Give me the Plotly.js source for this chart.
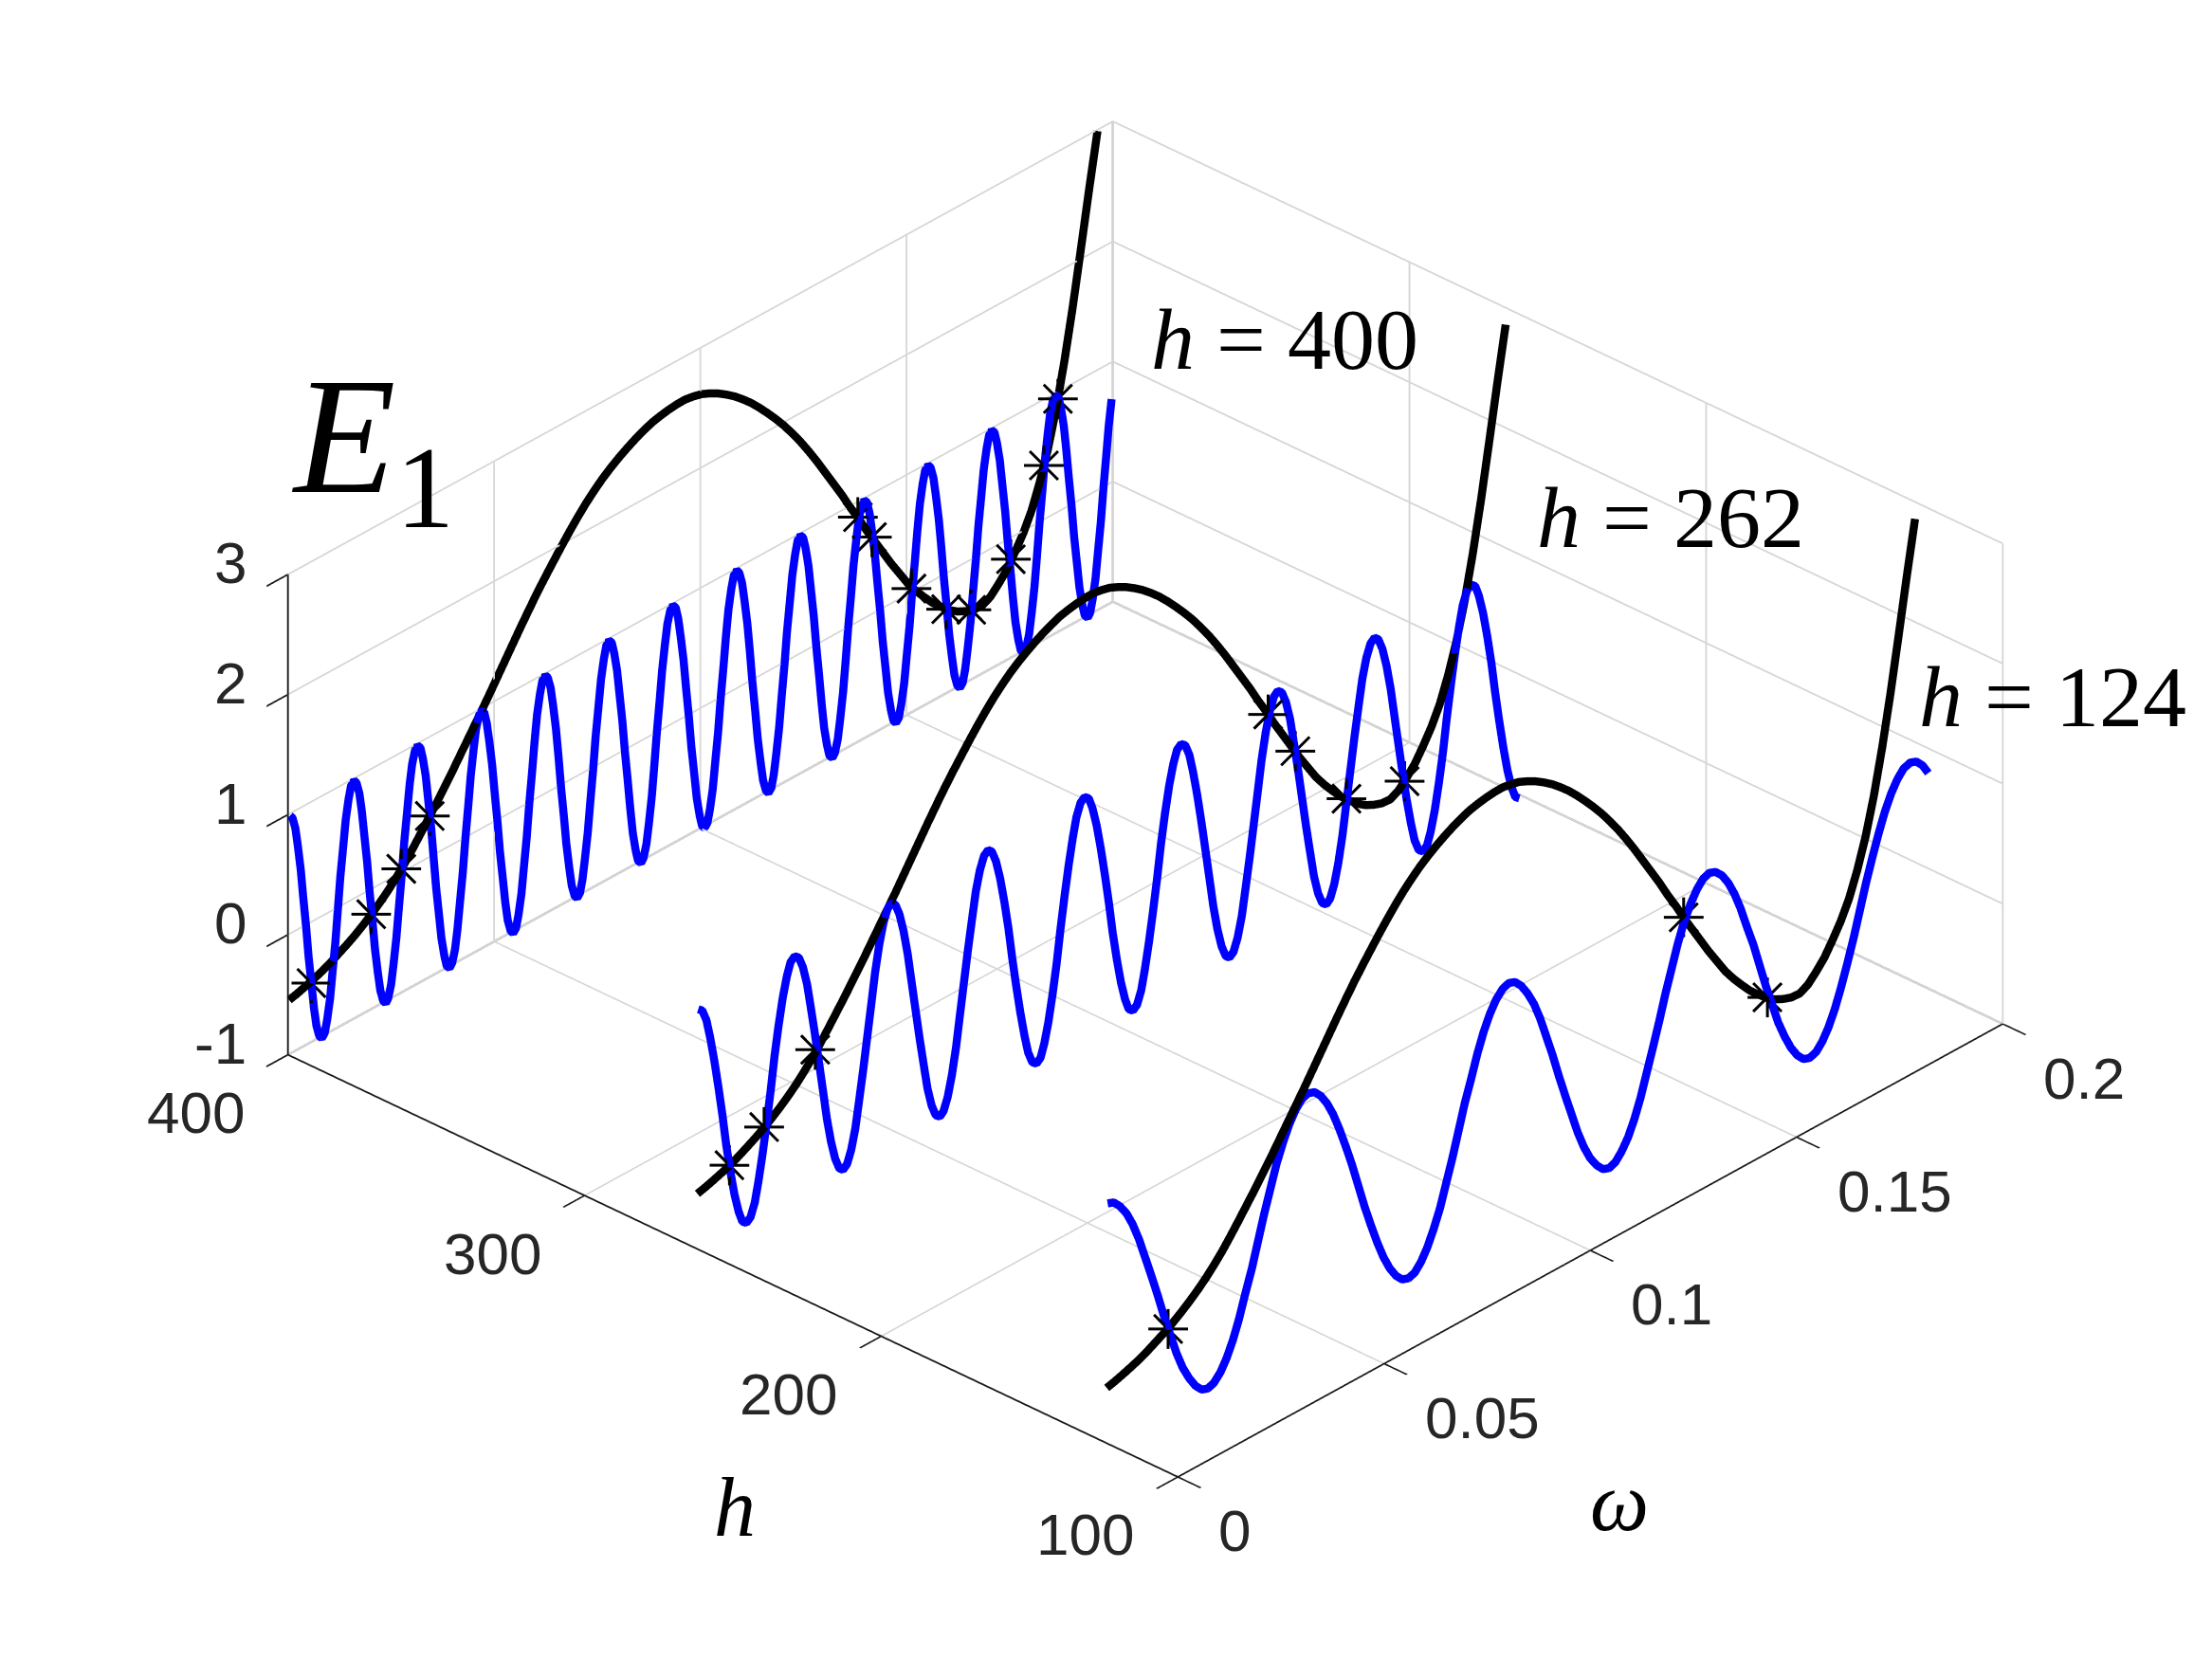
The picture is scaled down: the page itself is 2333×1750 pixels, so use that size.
<!DOCTYPE html>
<html><head><meta charset="utf-8"><script src="https://cdn.plot.ly/plotly-3.0.1.min.js"></script>
<style>html,body{margin:0;padding:0;background:#fff}</style></head><body><div id="g" style="width:2333px;height:1750px"></div>
<script>
const omega400=[0,.0006,.0013,.0019,.0026,.0032,.0039,.0045,.0052,.0058,.0064,.0071,.0077,.0084,.009,.0097,.0103,.011,.0116,.0122,.0129,.0135,.0142,.0148,
.0155,.0161,.0168,.0174,.018,.0187,.0193,.02,.0206,.0213,.0219,.0226,.0232,.0238,.0245,.0251,.0258,.0264,.0271,.0277,.0284,.029,.0296,.0303,
.0309,.0316,.0322,.0329,.0335,.0342,.0348,.0354,.0361,.0367,.0374,.038,.0387,.0393,.04,.0406,.0412,.0419,.0425,.0432,.0438,.0445,.0451,.0458,
.0464,.0471,.0477,.0483,.049,.0496,.0503,.0509,.0516,.0522,.0528,.0535,.0541,.0548,.0554,.0561,.0567,.0574,.058,.0587,.0593,.0599,.0606,.0612,
.0619,.0625,.0632,.0638,.0645,.0651,.0657,.0664,.067,.0677,.0683,.069,.0696,.0703,.0709,.0715,.0722,.0728,.0735,.0741,.0748,.0754,.0761,.0767,
.0773,.078,.0786,.0793,.0799,.0806,.0812,.0819,.0825,.0831,.0838,.0844,.0851,.0857,.0864,.087,.0877,.0883,.0889,.0896,.0902,.0909,.0915,.0922,
.0928,.0935,.0941,.0947,.0954,.096,.0967,.0973,.098,.0986,.0993,.0999,.1005,.1012,.1018,.1025,.1031,.1038,.1044,.1051,.1057,.1063,.107,.1076,
.1083,.1089,.1096,.1102,.1109,.1115,.1121,.1128,.1134,.1141,.1147,.1154,.116,.1167,.1173,.1179,.1186,.1192,.1199,.1205,.1212,.1218,.1225,.1231,
.1237,.1244,.125,.1257,.1263,.127,.1276,.1283,.1289,.1295,.1302,.1308,.1315,.1321,.1328,.1334,.1341,.1347,.1353,.136,.1366,.1373,.1379,.1386,
.1392,.1399,.1405,.1411,.1418,.1424,.1431,.1437,.1444,.145,.1457,.1463,.1469,.1476,.1482,.1489,.1495,.1502,.1508,.1515,.1521,.1527,.1534,.154,
.1547,.1553,.156,.1566,.1573,.1579,.1585,.1592,.1598,.1605,.1611,.1618,.1624,.1631,.1637,.1643,.165,.1656,.1663,.1669,.1676,.1682,.1689,.1695,
.1701,.1708,.1714,.1721,.1727,.1734,.174,.1747,.1753,.1759,.1766,.1772,.1779,.1785,.1792,.1798,.1805,.1811,.1817,.1824,.183,.1837,.1843,.185,
.1856,.1863,.1869,.1876,.1882,.1888,.1895,.1901,.1908,.1914,.1921,.1927,.1934,.194,.1946,.1953,.1959,.1966,.1972,.1979,.1985,.1992];
const blue400=[1,.97,.87,.71,.5,.26,0,-.26,-.5,-.71,-.87,-.97,-1,-.97,-.87,-.71,-.5,-.26,0,.26,.5,.71,.87,.97,
1,.97,.87,.71,.5,.26,0,-.26,-.5,-.71,-.87,-.97,-1,-.97,-.87,-.71,-.5,-.26,0,.26,.5,.71,.87,.97,
1,.97,.87,.71,.5,.26,0,-.26,-.5,-.71,-.87,-.97,-1,-.97,-.87,-.71,-.5,-.26,0,.26,.5,.71,.87,.97,
1,.97,.87,.71,.5,.26,0,-.26,-.5,-.71,-.87,-.97,-1,-.97,-.87,-.71,-.5,-.26,0,.26,.5,.71,.87,.97,
1,.97,.87,.71,.5,.26,0,-.26,-.5,-.71,-.87,-.97,-1,-.97,-.87,-.71,-.5,-.26,0,.26,.5,.71,.87,.97,
1,.97,.87,.71,.5,.26,0,-.26,-.5,-.71,-.87,-.97,-1,-.97,-.87,-.71,-.5,-.26,0,.26,.5,.71,.87,.97,
1,.97,.87,.71,.5,.26,0,-.26,-.5,-.71,-.87,-.97,-1,-.97,-.87,-.71,-.5,-.26,0,.26,.5,.71,.87,.97,
1,.97,.87,.71,.5,.26,0,-.26,-.5,-.71,-.87,-.97,-1,-.97,-.87,-.71,-.5,-.26,0,.26,.5,.71,.87,.97,
1,.97,.87,.71,.5,.26,0,-.26,-.5,-.71,-.87,-.97,-1,-.97,-.87,-.71,-.5,-.26,0,.26,.5,.71,.87,.97,
1,.97,.87,.71,.5,.26,0,-.26,-.5,-.71,-.87,-.97,-1,-.97,-.87,-.71,-.5,-.26,0,.26,.5,.71,.87,.97,
1,.97,.87,.71,.5,.26,0,-.26,-.5,-.71,-.87,-.97,-1,-.97,-.87,-.71,-.5,-.26,0,.26,.5,.71,.87,.97,
1,.97,.87,.71,.5,.26,0,-.26,-.5,-.71,-.87,-.97,-1,-.97,-.87,-.71,-.5,-.26,0,.26,.5,.71,.87,.97,
1,.97,.87,.71,.5,.26,0,-.26,-.5,-.71,-.87,-.97,-1,-.97,-.87,-.71,-.5,-.26,0,.26,.5,.71];
const omega262=[0,.001,.002,.0029,.0039,.0049,.0059,.0068,.0078,.0088,.0098,.0107,.0117,.0127,.0137,.0146,.0156,.0166,.0176,.0185,.0195,.0205,.0215,.0224,
.0234,.0244,.0254,.0264,.0273,.0283,.0293,.0303,.0312,.0322,.0332,.0342,.0351,.0361,.0371,.0381,.039,.04,.041,.042,.0429,.0439,.0449,.0459,
.0468,.0478,.0488,.0498,.0508,.0517,.0527,.0537,.0547,.0556,.0566,.0576,.0586,.0595,.0605,.0615,.0625,.0634,.0644,.0654,.0664,.0673,.0683,.0693,
.0703,.0712,.0722,.0732,.0742,.0752,.0761,.0771,.0781,.0791,.08,.081,.082,.083,.0839,.0849,.0859,.0869,.0878,.0888,.0898,.0908,.0917,.0927,
.0937,.0947,.0956,.0966,.0976,.0986,.0996,.1005,.1015,.1025,.1035,.1044,.1054,.1064,.1074,.1083,.1093,.1103,.1113,.1122,.1132,.1142,.1152,.1161,
.1171,.1181,.1191,.12,.121,.122,.123,.124,.1249,.1259,.1269,.1279,.1288,.1298,.1308,.1318,.1327,.1337,.1347,.1357,.1366,.1376,.1386,.1396,
.1405,.1415,.1425,.1435,.1444,.1454,.1464,.1474,.1484,.1493,.1503,.1513,.1523,.1532,.1542,.1552,.1562,.1571,.1581,.1591,.1601,.161,.162,.163,
.164,.1649,.1659,.1669,.1679,.1688,.1698,.1708,.1718,.1728,.1737,.1747,.1757,.1767,.1776,.1786,.1796,.1806,.1815,.1825,.1835,.1845,.1854,.1864,
.1874,.1884,.1893,.1903,.1913,.1923,.1932,.1942,.1952,.1962,.1972,.1981,.1991];
const blue262=[1,.97,.87,.71,.5,.26,0,-.26,-.5,-.71,-.87,-.97,-1,-.97,-.87,-.71,-.5,-.26,0,.26,.5,.71,.87,.97,
1,.97,.87,.71,.5,.26,0,-.26,-.5,-.71,-.87,-.97,-1,-.97,-.87,-.71,-.5,-.26,0,.26,.5,.71,.87,.97,
1,.97,.87,.71,.5,.26,0,-.26,-.5,-.71,-.87,-.97,-1,-.97,-.87,-.71,-.5,-.26,0,.26,.5,.71,.87,.97,
1,.97,.87,.71,.5,.26,0,-.26,-.5,-.71,-.87,-.97,-1,-.97,-.87,-.71,-.5,-.26,0,.26,.5,.71,.87,.97,
1,.97,.87,.71,.5,.26,0,-.26,-.5,-.71,-.87,-.97,-1,-.97,-.87,-.71,-.5,-.26,0,.26,.5,.71,.87,.97,
1,.97,.87,.71,.5,.26,0,-.26,-.5,-.71,-.87,-.97,-1,-.97,-.87,-.71,-.5,-.26,0,.26,.5,.71,.87,.97,
1,.97,.87,.71,.5,.26,0,-.26,-.5,-.71,-.87,-.97,-1,-.97,-.87,-.71,-.5,-.26,0,.26,.5,.71,.87,.97,
1,.97,.87,.71,.5,.26,0,-.26,-.5,-.71,-.87,-.97,-1,-.97,-.87,-.71,-.5,-.26,0,.26,.5,.71,.87,.97,
1,.97,.87,.71,.5,.26,0,-.26,-.5,-.71,-.87,-.97,-1];
const omega124=[0,.0015,.003,.0046,.0061,.0076,.0091,.0106,.0122,.0137,.0152,.0167,.0182,.0198,.0213,.0228,.0243,.0258,.0274,.0289,.0304,.0319,.0334,.035,.0365,.038,.0395,.041,.0426,.0441,.0456,.0471,
.0486,.0502,.0517,.0532,.0547,.0562,.0578,.0593,.0608,.0623,.0638,.0654,.0669,.0684,.0699,.0714,.073,.0745,.076,.0775,.079,.0806,.0821,.0836,.0851,.0866,.0882,.0897,.0912,.0927,.0942,.0958,
.0973,.0988,.1003,.1018,.1034,.1049,.1064,.1079,.1094,.111,.1125,.114,.1155,.117,.1186,.1201,.1216,.1231,.1246,.1262,.1277,.1292,.1307,.1322,.1338,.1353,.1368,.1383,.1398,.1414,.1429,.1444,
.1459,.1474,.149,.1505,.152,.1535,.155,.1566,.1581,.1596,.1611,.1626,.1642,.1657,.1672,.1687,.1702,.1718,.1733,.1748,.1763,.1778,.1794,.1809,.1824,.1839,.1854,.187,.1885,.19,.1915,.193,
.1946,.1961,.1976,.199];
const blue124=[1,.98,.92,.83,.71,.56,.38,.2,0,-.2,-.38,-.56,-.71,-.83,-.92,-.98,-1,-.98,-.92,-.83,-.71,-.56,-.38,-.2,0,.2,.38,.56,.71,.83,.92,.98,
1,.98,.92,.83,.71,.56,.38,.2,0,-.2,-.38,-.56,-.71,-.83,-.92,-.98,-1,-.98,-.92,-.83,-.71,-.56,-.38,-.2,0,.2,.38,.56,.71,.83,.92,.98,
1,.98,.92,.83,.71,.56,.38,.2,0,-.2,-.38,-.56,-.71,-.83,-.92,-.98,-1,-.98,-.92,-.83,-.71,-.56,-.38,-.2,0,.2,.38,.56,.71,.83,.92,.98,
1,.98,.92,.83,.71,.56,.38,.2,0,-.2,-.38,-.56,-.71,-.83,-.92,-.98,-1,-.98,-.92,-.83,-.71,-.56,-.38,-.2,0,.2,.38,.56,.71,.83,.92,.98,
1,.98,.92,.83];
const omegaBlack=[0,.002,.004,.006,.008,.01,.012,.014,.016,.018,.02,.022,.024,.026,.028,.03,.032,.034,.036,.038,.04,.042,.044,.046,.048,.05,.052,.054,.056,.058,.06,.062,.064,.066,.068,.07,.072,.074,.076,.078,.08,.082,.084,.086,.088,.09,.092,.094,.096,.098,.1,.102,.104,.106,.108,.11,.112,.114,.116,.118,.12,.122,.124,.126,.128,.13,.132,.134,.136,.138,.14,.142,.144,.146,.148,.15,.152,.154,.156,.158,.16,.162,.164,.166,.168,.17,.172,.174,.176,.178,.18,.182,.184,.186,.188,.19,.192,.194,.196];
const energy=[-.54,-.522,-.5,-.476,-.45,-.417,-.38,-.342,-.3,-.252,-.2,-.143,-.08,-.008,.07,.158,.25,.345,.44,.54,.64,.745,.85,.955,1.06,1.17,1.28,1.39,1.5,1.606,1.71,1.807,1.9,1.992,2.08,2.163,2.24,2.308,2.37,2.423,2.47,2.512,2.55,2.582,2.61,2.627,2.64,2.648,2.65,2.638,2.62,2.588,2.55,2.503,2.45,2.388,2.32,2.243,2.16,2.073,1.98,1.878,1.77,1.653,1.53,1.4,1.27,1.14,1,.87,.73,.6,.47,.34,.22,.1,0,-.09,-.175,-.245,-.31,-.36,-.395,-.42,-.425,-.39,-.32,-.24,-.13,-.01,.14,.34,.58,.88,1.24,1.65,2.1,2.56,3];
const starOmega400=[.0054,.0199,.0272,.0341,.1379,.1413,.1509,.1593,.1654,.175,.183,.1864];
const starE400=[-.5,-.2,.04,.35,.88,.65,.04,-.29,-.41,-.17,.46,.95];
const starOmega262=[.0078,.0162,.0286,.1384,.145,.1574,.1715];
const starE262=[-.45,-.29,.12,.84,.41,-.22,-.34];
const starOmega124=[.0149,.1399,.1602];
const starE124=[-.33,.74,-.31];
const hTicks=[100,200,300,400], omegaTicks=[0,.05,.1,.15,.2], eTicks=[-1,0,1,2,3];
const omegaTickText=['0','0.05','0.1','0.15','0.2'];
const edgeOmega=[0,.2,.2,null,.2,.2], edgeH=[400,400,100,null,400,400], edgeE=[-1,-1,-1,null,-1,3];

const constant=(a,v)=>a.map(()=>v);
function curve(xs,zs,h,color){return {type:'scatter3d',mode:'lines',x:xs,y:constant(xs,h),z:zs,line:{color:color,width:17},hoverinfo:'skip',showlegend:false};}
// asterisk arms, in screen pixels; converted to data units of the plane h = const
const PX_OMEGA=4365,PX_OMEGA_UP=2395,PX_E=126.5;
const arms=[[21,0],[0,21],[15,15],[15,-15]];
function stars(xs,zs,h){const X=[],Y=[],Z=[];xs.forEach((w,i)=>{arms.forEach(a=>{const dw=a[0]/PX_OMEGA,dz=(a[1]-PX_OMEGA_UP*dw)/PX_E;X.push(w-dw,w+dw,null);Y.push(h,h,null);Z.push(zs[i]-dz,zs[i]+dz,null);});});
 return {type:'scatter3d',mode:'lines',x:X,y:Y,z:Z,connectgaps:false,line:{color:'#000',width:6},hoverinfo:'skip',showlegend:false};}
const data=[
 {type:'scatter3d',mode:'lines',x:edgeOmega,y:edgeH,z:edgeE,connectgaps:false,line:{color:'#bdbdbd',width:5},hoverinfo:'skip',showlegend:false},
 curve(omega400,blue400,399.3,'#0000ff'),curve(omegaBlack,energy,399.6,'#000'),
 curve(omega262,blue262,261.7,'#0000ff'),curve(omegaBlack,energy,262,'#000'),
 curve(omega124,blue124,123.7,'#0000ff'),curve(omegaBlack,energy,124,'#000'),
 stars(starOmega400,starE400,399.6),stars(starOmega262,starE262,262),stars(starOmega124,starE124,124)
];
const tickFont={family:'Liberation Sans, Arial, sans-serif',size:62,color:'#262626'};
const ann3d=[];
hTicks.forEach(v=>ann3d.push({x:0,y:v,z:-1,text:String(v),showarrow:false,xanchor:'right',yanchor:'middle',xshift:-44,yshift:-61,font:tickFont}));
omegaTicks.forEach((v,i)=>ann3d.push({x:v,y:100,z:-1,text:omegaTickText[i],showarrow:false,xanchor:'left',yanchor:'middle',xshift:41,yshift:-57,font:tickFont}));
eTicks.forEach(v=>ann3d.push({x:0,y:400,z:v,text:String(v),showarrow:false,xanchor:'right',yanchor:'middle',xshift:-42,yshift:12,font:tickFont}));
const axisStyle={title:{text:''},showgrid:true,gridcolor:'#d6d6d6',gridwidth:4,showline:true,linecolor:'#1a1a1a',linewidth:4,ticks:'outside',ticklen:33,tickwidth:4,tickcolor:'#1a1a1a',showticklabels:false,zeroline:false,showspikes:false,showbackground:false};
const R=2.11;
const W=2333,H=1750;
const serif='Liberation Serif, serif';
function label(px,py,text,size,anchor){return {xref:'paper',yref:'paper',x:px/W,y:1-py/H,text:text,showarrow:false,xanchor:anchor||'left',yanchor:'middle',font:{family:serif,size:size,color:'#000'}};}
const layout={width:W,height:H,margin:{l:0,r:0,t:0,b:0},paper_bgcolor:'#fff',showlegend:false,hovermode:false,
 scene:{domain:{x:[.0356,1],y:[.0366,1]},aspectmode:'manual',aspectratio:{x:1.516,y:1.52,z:.699},
  camera:{projection:{type:'orthographic'},up:{x:0,y:0,z:1},center:{x:0,y:0,z:0},eye:{x:-.6298*R,y:-.5853*R,z:.5105*R}},
  xaxis:Object.assign({},axisStyle,{range:[0,.2],tickvals:omegaTicks}),
  yaxis:Object.assign({},axisStyle,{range:[100,400],tickvals:hTicks}),
  zaxis:Object.assign({},axisStyle,{range:[-1,3],tickvals:eTicks}),
  annotations:ann3d},
 annotations:[
  label(305,472,'<i>E</i><sub>1</sub>',176),
  label(1212,358,'<i>h</i> = 400',92),
  label(1619,546,'<i>h</i> = 262',92),
  label(2022,735,'<i>h</i> = 124',92),
  label(775,1590,'<i>h</i>',88,'center'),
  label(1708,1584,'<i>ω</i>',88,'center')
 ]};
Plotly.newPlot('g',data,layout,{displayModeBar:false});
</script></body></html>
